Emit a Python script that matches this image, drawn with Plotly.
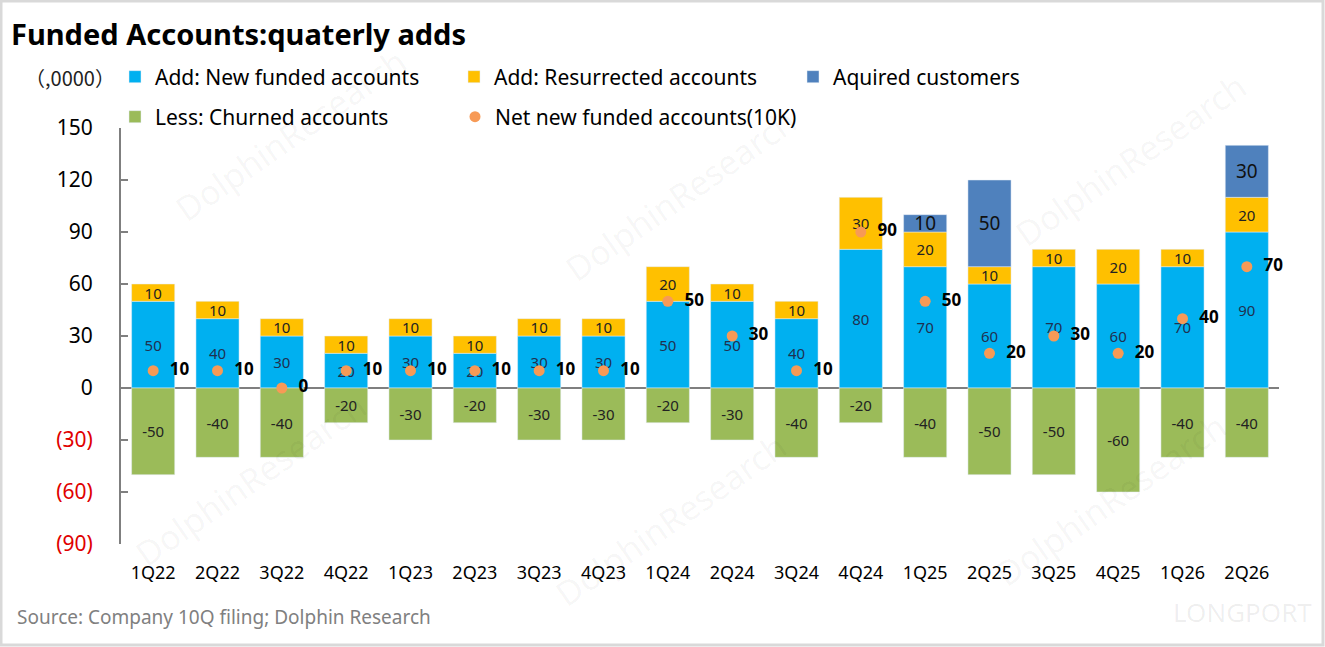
import plotly.graph_objects as go

quarters = ["1Q22","2Q22","3Q22","4Q22","1Q23","2Q23","3Q23","4Q23","1Q24","2Q24",
            "3Q24","4Q24","1Q25","2Q25","3Q25","4Q25","1Q26","2Q26"]
new_funded = [50,40,30,20,30,20,30,30,50,50,40,80,70,60,70,60,70,90]
resurrected = [10,10,10,10,10,10,10,10,20,10,10,30,20,10,10,20,10,20]
acquired = [None,None,None,None,None,None,None,None,None,None,None,None,10,50,None,None,None,30]
churned = [-50,-40,-40,-20,-30,-20,-30,-30,-20,-30,-40,-20,-40,-50,-50,-60,-40,-40]
net_new = [10,10,0,10,10,10,10,10,50,30,10,90,50,20,30,20,40,70]

y_ticks = [150,120,90,60,30,0,-30,-60,-90]
y_ticktext = ["150","120","90","60","30","0",
              "<span style='color:#E00000'>(30)</span>",
              "<span style='color:#E00000'>(60)</span>",
              "<span style='color:#E00000'>(90)</span>"]

FONT = "Noto Sans"
C_NEW, C_RES, C_ACQ, C_CHU, C_NET = "#00B0F0", "#FFC000", "#4F81BD", "#9BBB59", "#F79A56"

W, H = 1325, 647
L, R, T, B = 121, 46, 128, 103
pw, ph = W - L - R, H - T - B
def px(xp):  # pixel x -> x domain
    return (xp - L) / pw
def py(yp):  # pixel y -> y domain
    return (H - B - yp) / ph

def lbl(vals):
    return [("" if v is None else str(v)) for v in vals]

fig = go.Figure()
bar_common = dict(textposition="inside", insidetextanchor="middle", textangle=0,
                  constraintext="none", cliponaxis=False)
fig.add_trace(go.Bar(name="Add: New funded accounts", x=quarters, y=new_funded,
                     marker_color=C_NEW, text=lbl(new_funded), legend="legend",
                     textfont=dict(size=15, color="#1F3050", family=FONT), **bar_common))
fig.add_trace(go.Bar(name="Add: Resurrected accounts", x=quarters, y=resurrected,
                     marker_color=C_RES, text=lbl(resurrected), legend="legend",
                     textfont=dict(size=15, color="#222222", family=FONT), **bar_common))
fig.add_trace(go.Bar(name="Aquired customers", x=quarters, y=acquired,
                     marker_color=C_ACQ, text=lbl(acquired), legend="legend",
                     textfont=dict(size=19, color="#111111", family=FONT), **bar_common))
fig.add_trace(go.Bar(name="Less: Churned accounts", x=quarters, y=churned,
                     marker_color=C_CHU, text=lbl(churned), legend="legend2",
                     textfont=dict(size=15, color="#222222", family=FONT), **bar_common))
fig.add_trace(go.Scatter(name="Net new funded accounts(10K)", x=quarters, y=net_new,
                         mode="markers+text", marker=dict(color=C_NET, size=11),
                         text=["  " + str(v) for v in net_new], textposition="middle right",
                         textfont=dict(size=17, color="#000000", family=FONT),
                         texttemplate="<b>%{text}</b>", cliponaxis=False, legend="legend3"))

annotations = [
    dict(text="<b>Funded Accounts:quaterly adds</b>", xref="x domain", yref="y domain",
         x=px(9), y=py(33), xanchor="left", yanchor="middle", showarrow=False,
         font=dict(size=29, color="#000000", family=FONT)),
    dict(text="（,0000）", xref="x domain", yref="y domain", x=px(23), y=py(77),
         xanchor="left", yanchor="middle", showarrow=False,
         font=dict(size=20, color="#222222", family="Noto Sans CJK SC")),
    dict(text="Source: Company 10Q filing; Dolphin Research", xref="x domain", yref="y domain",
         x=px(15), y=py(617), xanchor="left", yanchor="middle", showarrow=False,
         font=dict(size=19, color="#808080", family=FONT)),
]

# faint watermarks
for (wx, wy) in [(290, 135), (680, 195), (1130, 160), (250, 480), (670, 520), (1110, 500)]:
    annotations.append(dict(text="DolphinResearch", xref="x domain", yref="y domain",
                            x=px(wx), y=py(wy), xanchor="center", yanchor="middle",
                            showarrow=False, textangle=-35,
                            font=dict(size=34, color="rgba(0,0,0,0.045)", family=FONT)))
annotations.append(dict(text="LONGPORT", xref="x domain", yref="y domain", x=px(1242), y=py(612),
                        xanchor="center", yanchor="middle", showarrow=False,
                        font=dict(size=26, color="rgba(0,0,0,0.07)", family=FONT)))

legend_common = dict(orientation="h", xanchor="left", yanchor="middle",
                     xref="container", yref="container",
                     entrywidth=294, entrywidthmode="pixels", traceorder="normal",
                     font=dict(size=21, color="#000000", family=FONT),
                     bgcolor="rgba(0,0,0,0)", itemclick=False, itemdoubleclick=False)
legend3_common = dict(legend_common)
legend3_common.update(entrywidth=0)
legend3_common.pop("entrywidthmode")

fig.update_layout(
    width=W, height=H, autosize=False,
    margin=dict(l=L, r=R, t=T, b=B, autoexpand=False),
    paper_bgcolor="white", plot_bgcolor="white",
    barmode="relative", bargap=0.33,
    font=dict(family=FONT, color="#000000"),
    showlegend=True,
    legend=dict(x=115 / W, y=1 - 77 / H, **legend_common),
    legend2=dict(x=115 / W, y=1 - 117 / H, **legend_common),
    legend3=dict(x=455 / W, y=1 - 117 / H, **legend3_common),
    annotations=annotations,
)
fig.update_xaxes(range=[-0.5, len(quarters) - 0.5], showgrid=False, showline=False,
                 ticks="", zeroline=False, ticklabelstandoff=16,
                 tickfont=dict(size=18, color="#000000", family=FONT))
fig.update_yaxes(range=[-90, 150], tickvals=y_ticks, ticktext=y_ticktext,
                 showgrid=False, showline=True, linecolor="#7F7F7F", linewidth=2,
                 ticks="inside", ticklen=7, tickcolor="#7F7F7F", tickwidth=2,
                 zeroline=True, zerolinecolor="#7F7F7F", zerolinewidth=2,
                 ticklabelstandoff=22,
                 tickfont=dict(size=21, color="#000000", family=FONT))

# page border like the reference image frame
fig.add_shape(type="rect", xref="x domain", yref="y domain",
              x0=px(1), x1=px(W - 2), y0=py(1), y1=py(H - 2),
              line=dict(color="#D9D9D9", width=3), layer="below")

fig.write_html("out.html", config={"displayModeBar": False},
               post_script="document.body.style.margin='0';document.body.style.overflow='hidden';")
